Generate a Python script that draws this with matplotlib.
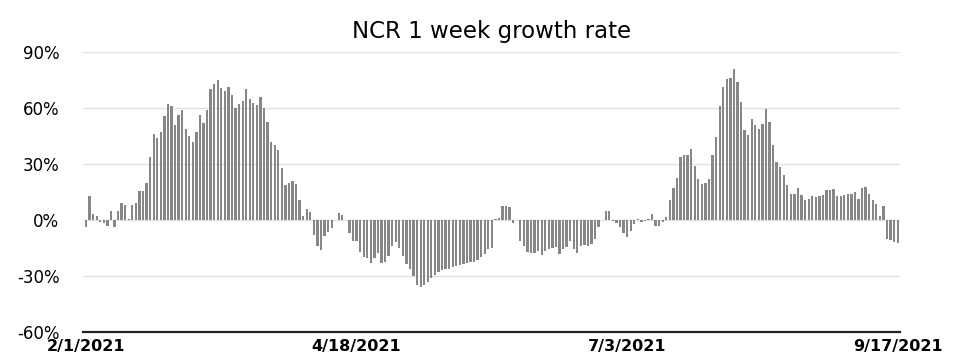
import numpy as np
import matplotlib
matplotlib.use("Agg")
import matplotlib.pyplot as plt

# weekly growth rate (%), one bar per day from 2/1/2021 to 9/17/2021
feb_apr = [-3.5, 13, 3.4, 2, -1, -1.5, -3, 5, -4, 5, 9, 8, 0.5, 8, 9, 15.5, 15.5, 20,
           34, 46, 44, 47, 55.5, 62, 61, 51, 56, 59, 49, 45, 42, 47, 56, 52, 59, 70,
           73, 75, 70.5, 69, 71, 67, 60, 62, 64, 70, 64.6, 62.5, 61.4, 66, 60, 52.7,
           42, 40, 37.7, 28, 18.6, 20, 21, 19.5, 10.5, 2.3, 6, 4.3, -8, -14, -16]
apr_jun = [-8.5, -6.5, -4.5, 0, 4, 2.5, 0, -7, -11, -11.5, -17, -20, -20.5, -23, -20.5,
           -17.5, -23, -22.5, -19.5, -14, -12, -15, -19.5, -23.5, -26, -30, -35, -35.7,
           -35, -33, -31, -29.5, -28, -27, -26.4, -26, -25, -24.5, -24, -23.5, -23,
           -22.5, -22.5, -21.5, -20, -18, -15.5, -15, 0.3, 1, 7.7, 7.7, 7, -1.5, 0,
           -11.5, -14, -17, -17.5, -17.5, -16.5, -18.5, -16.5, -15.5, -15, -14.5, -18,
           -15.5, -14.5, -11, -15.5, -17.5, -14, -13.5, -14, -13, -10, -4, 0]
jul_sep = [4.8, 5, -0.5, -1.5, -4, -7, -9, -6, -2, 0.5, -1, -0.8, 0.3, 3, -3, -3, -1,
           1.5, 10.5, 17, 22.5, 33.5, 35, 35, 38, 29, 22, 19.5, 20, 22, 35, 44.5, 61,
           71.5, 75.5, 76, 81, 74, 63, 48, 45.5, 54, 51, 48.5, 51.5, 59.5, 52.5, 40,
           31, 28.5, 24, 18.5, 14, 14, 17, 13.5, 10.5, 11, 13, 12.5, 13, 13.5, 16, 16,
           16.5, 13, 13, 13.5, 14, 14, 15, 11, 17, 17.5, 14, 10.5, 8.5, 2, 7.5, -10,
           -10.5, -12, -12.5]
growth = feb_apr + apr_jun + jul_sep

date_labels = ["2/1/2021", "4/18/2021", "7/3/2021", "9/17/2021"]
y_ticks = [-60, -30, 0, 30, 60, 90]

plt.rcParams["ytick.major.pad"] = 17
plt.rcParams["xtick.major.pad"] = 5

fig = plt.figure(figsize=(9.57, 3.61), dpi=100)
ax = fig.add_axes([83 / 957, 29 / 361, 817 / 957, 280 / 361])

x = np.arange(len(growth))
ax.bar(x, growth, width=0.65, color="#878787", zorder=2)

ax.set_ylim(-60, 90)
ax.set_xlim(-0.85, len(growth) - 0.35)
ax.set_yticks(y_ticks)
ax.set_yticklabels([f"{v}%" for v in y_ticks], fontsize=12)
ax.set_xticks([0, 76, 152, 228])
ax.set_xticklabels(date_labels, fontsize=11.5, fontweight="bold")
ax.tick_params(length=0)
ax.grid(axis="y", color="#e2e2e2", linewidth=1, zorder=0)

for s in ["top", "right", "left"]:
    ax.spines[s].set_visible(False)
ax.spines["bottom"].set_linewidth(1.6)
ax.spines["bottom"].set_color("#222222")

ax.set_title("NCR 1 week growth rate", fontsize=16.5, pad=10)

fig.savefig("out.png", dpi=100)
